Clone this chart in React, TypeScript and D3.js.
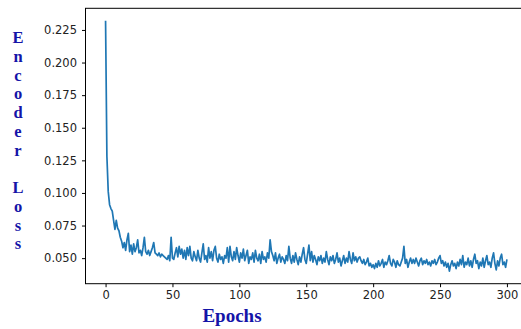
import { useEffect, useRef } from "react";
import * as d3 from "d3";

const width = 521;
const height = 329;

// plot box (right spine falls just outside the picture, as in the reference)
const margin = { left: 85.5, top: 8.3, right: 527, bottom: 283.7 };

// encoder loss per epoch, 0..300
const lossValues = [
  0.232, 0.128, 0.101, 0.091, 0.088, 0.086, 0.079, 0.072, 0.079, 0.073,
  0.071, 0.066, 0.063, 0.058, 0.062, 0.056, 0.064, 0.069, 0.055, 0.06,
  0.053, 0.061, 0.055, 0.058, 0.064, 0.054, 0.056, 0.052, 0.058, 0.066,
  0.055, 0.053, 0.056, 0.052, 0.055, 0.058, 0.062, 0.054, 0.053, 0.052,
  0.054, 0.051, 0.053, 0.052, 0.051, 0.05, 0.049, 0.052, 0.048, 0.066,
  0.05, 0.049, 0.054, 0.058, 0.051, 0.059, 0.053, 0.057, 0.05, 0.056,
  0.049, 0.058, 0.052, 0.059, 0.05, 0.048, 0.055, 0.051, 0.048, 0.056,
  0.05, 0.047, 0.054, 0.061, 0.049, 0.052, 0.047, 0.058, 0.05, 0.055,
  0.048, 0.056, 0.059, 0.05, 0.047, 0.053, 0.049, 0.051, 0.046, 0.052,
  0.05, 0.058, 0.047, 0.059, 0.051, 0.048, 0.055, 0.049, 0.058, 0.052,
  0.047, 0.054, 0.05, 0.057, 0.048, 0.052, 0.056, 0.046, 0.051, 0.049,
  0.054, 0.047, 0.056, 0.05, 0.048, 0.053, 0.046, 0.055, 0.049, 0.051,
  0.047, 0.054, 0.05, 0.064, 0.055, 0.052, 0.048, 0.054, 0.046, 0.05,
  0.053, 0.047, 0.051, 0.049, 0.046, 0.052, 0.048, 0.059, 0.05, 0.046,
  0.052, 0.047, 0.054, 0.049, 0.045, 0.051, 0.047, 0.053, 0.058, 0.049,
  0.046, 0.053, 0.06, 0.048, 0.055, 0.047, 0.052, 0.049, 0.045, 0.051,
  0.048, 0.052, 0.046, 0.05, 0.047, 0.055, 0.049, 0.045, 0.051, 0.048,
  0.052, 0.046, 0.049, 0.054, 0.047, 0.05, 0.044, 0.048, 0.052, 0.046,
  0.05, 0.047, 0.055, 0.049, 0.046, 0.054, 0.048, 0.051, 0.047, 0.05,
  0.051, 0.048, 0.046, 0.049, 0.045, 0.047, 0.05, 0.044, 0.046, 0.043,
  0.045, 0.042, 0.046, 0.043, 0.048, 0.044, 0.046, 0.049, 0.043, 0.047,
  0.045, 0.048, 0.052, 0.046, 0.044, 0.049, 0.047, 0.043, 0.048, 0.045,
  0.044, 0.047, 0.05, 0.059, 0.046, 0.049, 0.043, 0.047, 0.05, 0.046,
  0.049, 0.046, 0.05, 0.047, 0.044, 0.048, 0.05, 0.045, 0.048, 0.046,
  0.049, 0.045, 0.047, 0.044, 0.048, 0.046, 0.049, 0.045, 0.047, 0.05,
  0.052, 0.046, 0.048, 0.044, 0.047, 0.043, 0.046, 0.04, 0.045, 0.048,
  0.044, 0.046, 0.042, 0.047, 0.044, 0.049, 0.045, 0.052, 0.043, 0.047,
  0.045, 0.05, 0.044, 0.048, 0.043, 0.049, 0.053, 0.046, 0.048, 0.042,
  0.047, 0.044, 0.05, 0.043, 0.048, 0.052, 0.045, 0.047, 0.043, 0.05,
  0.054, 0.046, 0.041, 0.048, 0.044, 0.05, 0.053, 0.045, 0.047, 0.043,
  0.049,
];

const xTicks = [0, 50, 100, 150, 200, 250, 300];
const yTicks = [0.05, 0.075, 0.1, 0.125, 0.15, 0.175, 0.2, 0.225];

const yLabel = "Encoder Loss";
const xLabel = "Epochs";

const labelColor = "#1414a8";
const lineColor = "#1f77b4";

export default function App() {
  const svgRef = useRef<SVGSVGElement | null>(null);

  useEffect(() => {
    if (!svgRef.current) return;
    const svg = d3.select(svgRef.current);
    svg.selectAll("*").remove();

    const n = lossValues.length - 1;
    const xPad = n * 0.05;
    const x = d3
      .scaleLinear()
      .domain([-xPad, n + xPad])
      .range([margin.left, margin.right]);

    const [lo, hi] = d3.extent(lossValues) as [number, number];
    const yPad = (hi - lo) * 0.05;
    const y = d3
      .scaleLinear()
      .domain([lo - yPad, hi + yPad])
      .range([margin.bottom, margin.top]);

    // 折線
    const line = d3
      .line<number>()
      .x((_, i) => x(i))
      .y((d) => y(d));

    svg
      .append("path")
      .datum(lossValues)
      .attr("fill", "none")
      .attr("stroke", lineColor)
      .attr("stroke-width", 1.7)
      .attr("stroke-linejoin", "round")
      .attr("d", line);

    // 框線
    svg
      .append("rect")
      .attr("x", margin.left)
      .attr("y", margin.top)
      .attr("width", margin.right - margin.left)
      .attr("height", margin.bottom - margin.top)
      .attr("fill", "none")
      .attr("stroke", "#000")
      .attr("stroke-width", 1);

    const tickFont = "'DejaVu Sans', sans-serif";

    // x 軸刻度
    const gx = svg
      .append("g")
      .attr("transform", `translate(0,${margin.bottom})`)
      .call(d3.axisBottom(x).tickValues(xTicks).tickSize(3.5).tickPadding(3.5).tickSizeOuter(0));
    gx.select(".domain").remove();
    gx.selectAll("text")
      .style("font-family", tickFont)
      .style("font-size", "11.5px")
      .attr("fill", "#222");

    // y 軸刻度
    const gy = svg
      .append("g")
      .attr("transform", `translate(${margin.left},0)`)
      .call(
        d3
          .axisLeft(y)
          .tickValues(yTicks)
          .tickFormat(d3.format(".3f"))
          .tickSize(3.5)
          .tickPadding(5)
          .tickSizeOuter(0),
      );
    gy.select(".domain").remove();
    gy.selectAll("text")
      .style("font-family", tickFont)
      .style("font-size", "11.5px")
      .attr("fill", "#222");

    // 直排 y 軸標題
    svg
      .append("g")
      .selectAll("text")
      .data(yLabel.split(""))
      .join("text")
      .attr("x", 18)
      .attr("y", (_, i) => 43 + i * 18.75)
      .attr("text-anchor", "middle")
      .attr("fill", labelColor)
      .style("font-family", "'Liberation Serif', 'Times New Roman', serif")
      .style("font-weight", "700")
      .style("font-size", "16.5px")
      .text((d) => d);

    svg
      .append("text")
      .attr("x", 232)
      .attr("y", 322)
      .attr("text-anchor", "middle")
      .attr("fill", labelColor)
      .style("font-family", "'Liberation Serif', 'Times New Roman', serif")
      .style("font-weight", "700")
      .style("font-size", "19px")
      .text(xLabel);
  }, []);

  return (
    <svg
      ref={svgRef}
      width={width}
      height={height}
      viewBox={`0 0 ${width} ${height}`}
      style={{ position: "absolute", left: 0, top: 0, background: "#fff", overflow: "hidden" }}
    />
  );
}
